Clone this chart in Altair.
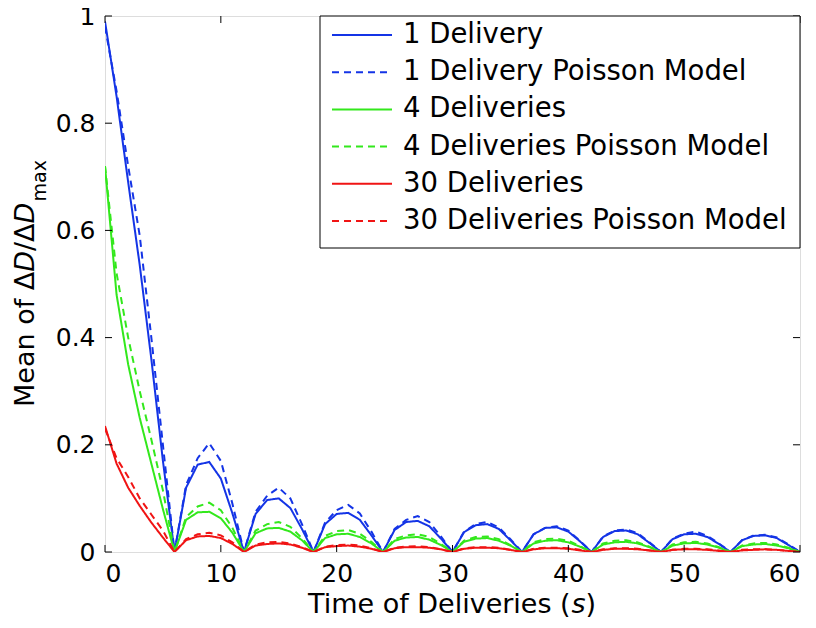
import altair as alt
import pandas as pd

# ---- data ----
T = list(range(61))
SERIES = ["1 Delivery", "1 Delivery Poisson Model", "4 Deliveries",
          "4 Deliveries Poisson Model", "30 Deliveries", "30 Deliveries Poisson Model"]
COLORS = ["#1434e6", "#1434e6", "#33e81c", "#33e81c", "#f01414", "#f01414"]
DASHES = [[1, 0], [7, 5], [1, 0], [7, 5], [1, 0], [7, 5]]

B1 = [0.99, 0.85, 0.69, 0.535, 0.36, 0.17, 0.0,
      0.12, 0.163, 0.168, 0.137, 0.072, 0.0,
      0.071, 0.097, 0.1, 0.082, 0.043, 0.0,
      0.052, 0.071, 0.073, 0.06, 0.031, 0.0,
      0.041, 0.056, 0.058, 0.048, 0.025, 0.0,
      0.037, 0.05, 0.052, 0.043, 0.022, 0.0,
      0.033, 0.045, 0.046, 0.038, 0.02, 0.0,
      0.028, 0.039, 0.04, 0.033, 0.017, 0.0,
      0.024, 0.033, 0.034, 0.028, 0.015, 0.0,
      0.022, 0.03, 0.031, 0.026, 0.013, 0.0]
B1P = [0.98, 0.86, 0.72, 0.59, 0.4, 0.2, 0.0,
       0.125, 0.175, 0.203, 0.17, 0.09, 0.0,
       0.075, 0.105, 0.12, 0.1, 0.052, 0.0,
       0.055, 0.078, 0.088, 0.072, 0.038, 0.0,
       0.043, 0.06, 0.067, 0.056, 0.029, 0.0,
       0.038, 0.052, 0.056, 0.046, 0.024, 0.0,
       0.033, 0.045, 0.048, 0.04, 0.021, 0.0,
       0.029, 0.04, 0.042, 0.035, 0.018, 0.0,
       0.025, 0.034, 0.038, 0.03, 0.016, 0.0,
       0.022, 0.031, 0.032, 0.027, 0.014, 0.0]
G4 = [0.72, 0.48, 0.35, 0.25, 0.165, 0.08, 0.0,
      0.06, 0.074, 0.075, 0.063, 0.036, 0.0,
      0.035, 0.044, 0.045, 0.038, 0.022, 0.0,
      0.026, 0.033, 0.034, 0.028, 0.016, 0.0,
      0.021, 0.027, 0.028, 0.023, 0.013, 0.0,
      0.019, 0.025, 0.026, 0.021, 0.012, 0.0,
      0.016, 0.021, 0.022, 0.018, 0.01, 0.0,
      0.014, 0.018, 0.019, 0.016, 0.009, 0.0,
      0.012, 0.016, 0.017, 0.014, 0.008, 0.0,
      0.011, 0.014, 0.015, 0.012, 0.007, 0.0]
G4P = [0.72, 0.52, 0.4, 0.3, 0.21, 0.115, 0.0,
       0.065, 0.085, 0.092, 0.078, 0.045, 0.0,
       0.04, 0.052, 0.056, 0.047, 0.026, 0.0,
       0.03, 0.039, 0.041, 0.034, 0.019, 0.0,
       0.024, 0.031, 0.033, 0.028, 0.015, 0.0,
       0.021, 0.028, 0.029, 0.024, 0.013, 0.0,
       0.018, 0.024, 0.025, 0.021, 0.011, 0.0,
       0.016, 0.021, 0.022, 0.018, 0.01, 0.0,
       0.014, 0.018, 0.019, 0.016, 0.009, 0.0,
       0.012, 0.016, 0.017, 0.014, 0.008, 0.0]
R30 = [0.235, 0.165, 0.12, 0.086, 0.055, 0.027, 0.0,
       0.022, 0.029, 0.03, 0.026, 0.015, 0.0,
       0.012, 0.015, 0.016, 0.014, 0.008, 0.0,
       0.009, 0.011, 0.012, 0.01, 0.006, 0.0,
       0.007, 0.009, 0.009, 0.008, 0.005, 0.0,
       0.006, 0.008, 0.008, 0.007, 0.004, 0.0,
       0.005, 0.007, 0.007, 0.006, 0.003, 0.0,
       0.004, 0.006, 0.006, 0.005, 0.003, 0.0,
       0.004, 0.005, 0.005, 0.004, 0.002, 0.0,
       0.003, 0.004, 0.005, 0.004, 0.002, 0.0]
R30P = [0.23, 0.175, 0.14, 0.1, 0.07, 0.04, 0.0,
        0.024, 0.033, 0.036, 0.031, 0.018, 0.0,
        0.014, 0.018, 0.019, 0.016, 0.009, 0.0,
        0.01, 0.013, 0.014, 0.012, 0.007, 0.0,
        0.008, 0.01, 0.011, 0.009, 0.005, 0.0,
        0.007, 0.009, 0.009, 0.008, 0.004, 0.0,
        0.006, 0.008, 0.008, 0.007, 0.004, 0.0,
        0.005, 0.007, 0.007, 0.006, 0.003, 0.0,
        0.004, 0.006, 0.006, 0.005, 0.003, 0.0,
        0.004, 0.005, 0.005, 0.004, 0.002, 0.0]

X_TICKS = [0, 10, 20, 30, 40, 50, 60]
Y_TICKS = [0, 0.2, 0.4, 0.6, 0.8, 1]

VALUES = [B1, B1P, G4, G4P, R30, R30P]
rows = []
for name, vals in zip(SERIES, VALUES):
    for t, v in zip(T, vals):
        rows.append({"t": t, "v": v, "series": name})
df = pd.DataFrame(rows)

W, H = 695, 536
TOP = 4  # shift of overlay texts relative to the previous layout
FONT = "DejaVu Sans"

xsc = alt.Scale(domain=[0, 60], nice=False, zero=False)
ysc = alt.Scale(domain=[0, 1], nice=False)
x_axis = alt.Axis(values=X_TICKS, format="d", title=None, grid=False, domain=False,
                  ticks=False, labelFontSize=25, labelFont=FONT, labelColor="black",
                  labelPadding=9, labelFlush=8)
y_axis = alt.Axis(values=Y_TICKS, format="~g", title=None, grid=False, domain=False,
                  ticks=False, labelFontSize=25, labelFont=FONT, labelColor="black",
                  labelPadding=10)
color = alt.Color("series:N", scale=alt.Scale(domain=SERIES, range=COLORS), legend=None)
dash = alt.StrokeDash("series:N", scale=alt.Scale(domain=SERIES, range=DASHES), legend=None)

lines = alt.Chart(df).mark_line(strokeWidth=2, clip=True).encode(
    x=alt.X("t:Q", scale=xsc, axis=x_axis),
    y=alt.Y("v:Q", scale=ysc, axis=y_axis),
    color=color,
    strokeDash=dash,
    detail="series:N",
)

ytick_df = pd.DataFrame({"v": Y_TICKS})
xtick_df = pd.DataFrame({"t": X_TICKS})
yt_left = alt.Chart(ytick_df).mark_rule(color="black", strokeWidth=1).encode(
    y=alt.Y("v:Q", scale=ysc, axis=y_axis), x=alt.value(0), x2=alt.value(7))
yt_right = alt.Chart(ytick_df).mark_rule(color="black", strokeWidth=1).encode(
    y=alt.Y("v:Q", scale=ysc, axis=y_axis), x=alt.value(W - 7), x2=alt.value(W))
xt_bot = alt.Chart(xtick_df).mark_rule(color="black", strokeWidth=1).encode(
    x=alt.X("t:Q", scale=xsc, axis=x_axis), y=alt.value(H - 7), y2=alt.value(H))
xt_top = alt.Chart(xtick_df).mark_rule(color="black", strokeWidth=1).encode(
    x=alt.X("t:Q", scale=xsc, axis=x_axis), y=alt.value(0), y2=alt.value(7))

# x-axis title: "Time of Deliveries (s)" with italic s
TY = 601 - TOP
xt1 = alt.Chart().mark_text(align="left", baseline="alphabetic", fontSize=27, font=FONT,
                            color="black").encode(
    x=alt.value(203), y=alt.value(TY), text=alt.value("Time of Deliveries ("))
xt2 = alt.Chart().mark_text(align="left", baseline="alphabetic", fontSize=27, font=FONT,
                            fontStyle="italic", color="black").encode(
    x=alt.value(466.5), y=alt.value(TY), text=alt.value("s"))
xt3 = alt.Chart().mark_text(align="left", baseline="alphabetic", fontSize=27, font=FONT,
                            color="black").encode(
    x=alt.value(480.6), y=alt.value(TY), text=alt.value(")"))

# y-axis title: "Mean of ΔD/ΔD_max"
def ytxt(txt, ypos, xpos, size=27, style="normal"):
    return alt.Chart().mark_text(align="left", baseline="alphabetic", angle=270, fontSize=size,
                                 font=FONT, fontStyle=style, color="black").encode(
        x=alt.value(xpos), y=alt.value(ypos - TOP), text=alt.value(txt))

YX = -71
yt1 = ytxt("Mean of Δ", 395, YX)
yt2 = ytxt("D", 259.8, YX, style="italic")
yt3 = ytxt("/Δ", 239.0, YX)
yt4 = ytxt("D", 211.4, YX, style="italic")
yt5 = ytxt("max", 189.5, YX + 12, size=19)

# legend
leg_df = pd.DataFrame({"series": SERIES})
leg_y = alt.Y("series:N", scale=alt.Scale(type="point", domain=SERIES,
                                          range=[23 - TOP, 209 - TOP], padding=0),
              axis=None)
leg_box = alt.Chart().mark_rect(fill="white", stroke="black", strokeWidth=1).encode(
    x=alt.value(215), x2=alt.value(W), y=alt.value(0), y2=alt.value(236 - TOP))
leg_rule = alt.Chart(leg_df).mark_rule(strokeWidth=2).encode(
    x=alt.value(227), x2=alt.value(287), y=leg_y, color=color, strokeDash=dash)
leg_text = alt.Chart(leg_df).mark_text(align="left", baseline="middle", fontSize=27.5,
                                       font=FONT, color="black").encode(
    x=alt.value(298), y=leg_y, text="series:N")

main = alt.layer(lines, yt_left, yt_right, xt_bot, xt_top,
                 xt1, xt2, xt3, yt1, yt2, yt3, yt4, yt5)
legend = alt.layer(leg_box, leg_rule, leg_text)

chart = alt.layer(main, legend).resolve_scale(y="independent").properties(
    width=W, height=H,
    autosize=alt.AutoSizeParams(type="none"),
    padding={"left": 97, "top": 8, "right": 8, "bottom": 66},
).configure_view(stroke="black", strokeWidth=1.2).configure(background="white")

chart.save("out.html", embed_options={"renderer": "svg", "actions": False})
